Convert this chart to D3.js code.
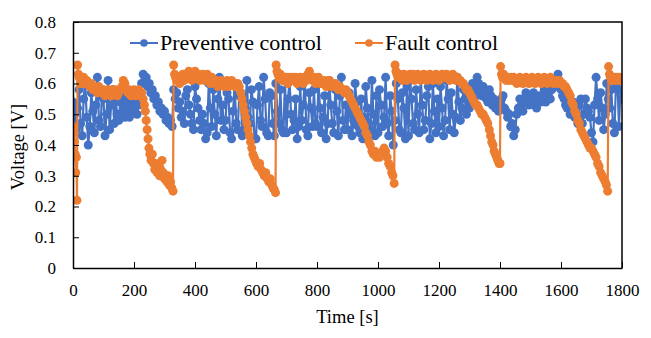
<!DOCTYPE html>
<html>
<head>
<meta charset="utf-8">
<script src="https://cdn.jsdelivr.net/npm/d3@7"></script>
<style>
  body { margin: 0; background: #fff; }
  text { font-family: "Liberation Serif", "Times New Roman", serif; fill: #000; }
</style>
</head>
<body>
<div id="chart"></div>
<script>
// preventive control, one reading every 5 s (0 .. 1800)
const preventiveTime = d3.range(0, 1801, 5);
const preventiveVolt = [
    0.54,0.50,0.45,0.52,0.58,0.47,0.43,0.55,0.61,0.49,0.40,0.46,0.57,0.51,0.44,0.53,0.62,0.48,0.46,0.56,
    0.55,0.43,0.50,0.61,0.45,0.53,0.58,0.47,0.55,0.50,0.48,0.54,0.50,0.56,0.49,0.52,0.54,0.49,0.51,0.55,
    0.52,0.55,0.50,0.53,0.57,0.60,0.63,0.61,0.62,0.59,0.60,0.57,0.58,0.55,0.56,0.53,0.54,0.51,0.52,0.50,
    0.51,0.48,0.49,0.47,0.48,0.46,0.58,0.55,0.57,0.52,0.54,0.49,0.51,0.47,0.56,0.58,0.53,0.50,0.47,0.45,
    0.59,0.55,0.52,0.48,0.45,0.50,0.47,0.42,0.44,0.60,0.52,0.46,0.58,0.50,0.43,0.55,0.62,0.48,0.53,0.45,
    0.48,0.57,0.55,0.44,0.42,0.51,0.60,0.47,0.45,0.56,0.57,0.43,0.44,0.52,0.61,0.49,0.47,0.58,0.54,0.42,
    0.42,0.53,0.59,0.48,0.46,0.62,0.55,0.44,0.43,0.57,0.56,0.47,0.43,0.60,0.51,0.47,0.58,0.45,0.44,0.61,
    0.44,0.55,0.61,0.50,0.45,0.48,0.55,0.42,0.46,0.59,0.48,0.53,0.62,0.45,0.43,0.57,0.52,0.46,0.58,0.47,
    0.46,0.60,0.52,0.44,0.49,0.56,0.42,0.47,0.61,0.53,0.47,0.44,0.58,0.51,0.43,0.56,0.62,0.48,0.45,0.53,
    0.45,0.57,0.50,0.43,0.48,0.60,0.54,0.46,0.44,0.55,0.42,0.49,0.59,0.52,0.47,0.45,0.61,0.50,0.43,0.56,
    0.44,0.58,0.53,0.46,0.49,0.62,0.47,0.43,0.56,0.51,0.40,0.48,0.60,0.55,0.45,0.44,0.57,0.52,0.42,0.59,
    0.43,0.61,0.55,0.47,0.45,0.58,0.50,0.44,0.62,0.53,0.45,0.48,0.56,0.59,0.42,0.47,0.60,0.51,0.44,0.55,
    0.46,0.59,0.52,0.43,0.48,0.61,0.55,0.45,0.57,0.50,0.44,0.49,0.62,0.54,0.48,0.52,0.58,0.55,0.50,0.57,
    0.52,0.56,0.60,0.55,0.58,0.62,0.60,0.57,0.56,0.59,0.57,0.55,0.54,0.58,0.56,0.53,0.55,0.52,0.54,0.51,
    0.53,0.55,0.56,0.52,0.51,0.49,0.50,0.46,0.47,0.43,0.45,0.50,0.52,0.55,0.53,0.51,0.55,0.57,0.56,0.53,
    0.54,0.56,0.57,0.53,0.52,0.55,0.56,0.54,0.55,0.58,0.54,0.56,0.57,0.55,0.58,0.60,0.59,0.61,0.63,0.60,
    0.58,0.56,0.55,0.53,0.52,0.54,0.50,0.51,0.54,0.49,0.52,0.47,0.53,0.55,0.47,0.50,0.55,0.52,0.51,0.49,
    0.44,0.41,0.53,0.62,0.55,0.48,0.57,0.52,0.45,0.50,0.60,0.55,0.52,0.58,0.47,0.44,0.59,0.61,0.46,0.58,
    0.55
];

// fault control, [time s, voltage V]
const faultPoints = [
    [0,0.46],[3,0.44],[5,0.41],[7,0.37],[9,0.31],[11,0.36],[13,0.22],
    [15,0.66],[18,0.63],[20,0.62],[25,0.60],[30,0.61],[35,0.62],[40,0.60],[45,0.61],[50,0.60],[55,0.59],[60,0.60],
    [65,0.58],[70,0.59],[75,0.58],[80,0.57],[85,0.59],[90,0.58],[95,0.57],[100,0.58],[105,0.56],[110,0.57],[115,0.58],
    [120,0.57],[125,0.56],[130,0.58],[135,0.57],[140,0.58],[145,0.56],[150,0.57],[155,0.58],[160,0.59],[165,0.61],
    [170,0.60],[175,0.58],[180,0.57],[185,0.58],[190,0.56],[195,0.57],[200,0.58],[205,0.56],[210,0.57],[215,0.58],
    [220,0.56],[225,0.57],[230,0.55],
    [234,0.53],[237,0.51],[240,0.48],[243,0.45],[246,0.42],[249,0.39],[252,0.37],[256,0.35],[260,0.37],[264,0.34],
    [268,0.32],[272,0.34],[276,0.31],[280,0.33],[284,0.30],[288,0.32],[292,0.35],[296,0.31],[300,0.29],[304,0.30],
    [308,0.28],[312,0.30],[316,0.27],[320,0.28],[324,0.26],[328,0.25],
    [330,0.66],[333,0.63],[336,0.62],[340,0.61],[345,0.62],[350,0.60],[355,0.62],[360,0.63],[365,0.61],[370,0.62],
    [375,0.63],[380,0.64],[385,0.62],[390,0.61],[395,0.63],[400,0.64],[405,0.62],[410,0.63],[415,0.61],[420,0.62],
    [425,0.63],[430,0.61],[435,0.62],[440,0.63],[445,0.61],[450,0.60],[455,0.62],[460,0.61],[465,0.60],[470,0.61],
    [475,0.59],[480,0.60],[485,0.61],[490,0.60],[495,0.59],[500,0.60],[505,0.61],[510,0.59],[515,0.60],[520,0.61],
    [525,0.60],[530,0.59],[535,0.60],[540,0.60],[545,0.59],
    [550,0.57],[554,0.55],[558,0.53],[562,0.51],[566,0.49],[570,0.47],[574,0.45],[578,0.43],[582,0.41],[586,0.39],
    [590,0.37],[594,0.36],[598,0.35],[602,0.34],[607,0.33],[612,0.34],[617,0.32],[622,0.31],[627,0.30],[632,0.31],
    [637,0.29],[642,0.28],[647,0.29],[652,0.27],[656,0.26],[660,0.255],[664,0.245],
    [666,0.66],[669,0.64],[672,0.63],[676,0.62],[680,0.63],[685,0.61],[690,0.62],[695,0.61],[700,0.62],[705,0.60],
    [710,0.62],[715,0.61],[720,0.62],[725,0.61],[730,0.62],[735,0.60],[740,0.61],[745,0.62],[750,0.61],[755,0.60],
    [760,0.62],[765,0.61],[770,0.63],[775,0.64],[780,0.62],[785,0.61],[790,0.62],[795,0.60],[800,0.61],[805,0.62],
    [810,0.60],[815,0.61],[820,0.60],[825,0.61],[830,0.59],[835,0.60],[840,0.61],[845,0.59],[850,0.60],[855,0.59],
    [860,0.60],[865,0.59],[870,0.58],[875,0.59],[880,0.58],[885,0.58],[890,0.57],[895,0.58],
    [900,0.57],[905,0.56],[910,0.55],[915,0.54],[920,0.53],[925,0.52],[930,0.51],[935,0.50],[940,0.49],[945,0.48],
    [950,0.47],[955,0.46],[960,0.44],[965,0.43],[970,0.41],[975,0.40],[980,0.38],[985,0.37],[990,0.38],[995,0.36],
    [1000,0.37],[1005,0.36],[1010,0.37],[1015,0.38],[1020,0.39],[1025,0.38],[1030,0.36],[1035,0.34],[1040,0.33],
    [1045,0.31],[1049,0.30],[1053,0.275],
    [1056,0.66],[1059,0.64],[1062,0.63],[1066,0.62],[1070,0.63],[1075,0.62],[1080,0.61],[1085,0.63],[1090,0.62],
    [1095,0.61],[1100,0.62],[1105,0.63],[1110,0.62],[1115,0.63],[1120,0.61],[1125,0.62],[1130,0.63],[1135,0.62],
    [1140,0.61],[1145,0.62],[1150,0.63],[1155,0.62],[1160,0.61],[1165,0.62],[1170,0.63],[1175,0.62],[1180,0.61],
    [1185,0.62],[1190,0.63],[1195,0.62],[1200,0.61],[1205,0.62],[1210,0.63],[1215,0.62],[1220,0.62],[1225,0.63],
    [1230,0.62],[1235,0.61],[1240,0.62],[1245,0.63],[1250,0.62],[1255,0.61],[1260,0.62],[1265,0.61],[1270,0.61],
    [1275,0.60],[1280,0.60],[1285,0.59],
    [1290,0.58],[1295,0.58],[1300,0.57],[1305,0.56],[1310,0.55],[1315,0.54],[1320,0.53],[1325,0.53],[1330,0.52],
    [1335,0.51],[1340,0.50],[1345,0.50],[1350,0.49],[1355,0.48],[1360,0.47],[1365,0.45],[1369,0.43],[1373,0.41],
    [1377,0.40],[1381,0.38],[1385,0.37],[1389,0.36],[1393,0.35],[1397,0.34],[1400,0.34],
    [1402,0.655],[1405,0.63],[1408,0.62],[1412,0.63],[1416,0.62],[1420,0.61],[1425,0.62],[1430,0.61],[1435,0.62],
    [1440,0.61],[1445,0.62],[1450,0.61],[1455,0.60],[1460,0.61],[1465,0.62],[1470,0.61],[1475,0.60],[1480,0.61],
    [1485,0.62],[1490,0.61],[1495,0.60],[1500,0.61],[1505,0.62],[1510,0.61],[1515,0.60],[1520,0.61],[1525,0.62],
    [1530,0.61],[1535,0.60],[1540,0.61],[1545,0.62],[1550,0.61],[1555,0.60],[1560,0.61],[1565,0.62],[1570,0.61],
    [1575,0.60],[1580,0.61],[1585,0.61],[1590,0.60],[1595,0.61],[1600,0.60],[1605,0.60],[1610,0.59],[1615,0.59],
    [1620,0.58],
    [1625,0.57],[1630,0.56],[1635,0.54],[1640,0.53],[1645,0.51],[1650,0.50],[1655,0.48],[1660,0.47],[1665,0.45],
    [1670,0.44],[1675,0.43],[1680,0.42],[1685,0.41],[1690,0.40],[1695,0.39],[1700,0.39],[1705,0.38],[1710,0.37],
    [1715,0.36],[1720,0.34],[1725,0.33],[1730,0.31],[1735,0.30],[1740,0.29],[1745,0.28],[1749,0.27],[1753,0.25],
    [1756,0.655],[1759,0.63],[1762,0.62],[1766,0.61],[1770,0.62],[1775,0.61],[1780,0.62],[1785,0.61],[1790,0.62],
    [1795,0.61],[1800,0.62]
];

const seriesNames = ["Preventive control", "Fault control"];
const seriesColors = ["#4472C4", "#ED7D31"];
const xTicks = [0, 200, 400, 600, 800, 1000, 1200, 1400, 1600, 1800];
const yTicks = [0, 0.1, 0.2, 0.3, 0.4, 0.5, 0.6, 0.7, 0.8];

const serif = "'Liberation Serif', 'Times New Roman', serif";
const width = 651, height = 338;
const margin = { top: 22, right: 29, bottom: 70, left: 73 };

const svg = d3.select("#chart").append("svg")
    .attr("width", width)
    .attr("height", height);

const x = d3.scaleLinear().domain([0, 1800]).range([margin.left, width - margin.right]);
const y = d3.scaleLinear().domain([0, 0.8]).range([height - margin.bottom, margin.top]);

// keep markers from spilling over the left / right frame
svg.append("clipPath").attr("id", "plotClip")
    .append("rect")
    .attr("x", margin.left)
    .attr("y", margin.top - 6)
    .attr("width", x(1800) - margin.left)
    .attr("height", y(0) - margin.top + 6);

const preventiveData = preventiveTime.map((t, i) => ({ t: t, v: preventiveVolt[i] }));
const faultData = faultPoints.map(p => ({ t: p[0], v: p[1] }));

const line = d3.line().x(d => x(d.t)).y(d => y(d.v));

const plot = svg.append("g").attr("clip-path", "url(#plotClip)");

[preventiveData, faultData].forEach(function (data, k) {
    plot.append("path")
        .datum(data)
        .attr("d", line)
        .attr("fill", "none")
        .attr("stroke", seriesColors[k])
        .attr("stroke-width", 2.2);
    plot.selectAll(".dot" + k)
        .data(data)
        .enter()
        .append("circle")
        .attr("class", "dot" + k)
        .attr("cx", d => x(d.t))
        .attr("cy", d => y(d.v))
        .attr("r", 4.5)
        .attr("fill", seriesColors[k]);
});

// axes, ticks pointing inward
svg.append("g")
    .attr("transform", "translate(0," + y(0) + ")")
    .call(d3.axisBottom(x).tickValues(xTicks).tickSizeInner(-6).tickSizeOuter(0).tickPadding(16)
        .tickFormat(d3.format("d")))
    .attr("font-family", serif)
    .attr("font-size", 17)
    .call(g => g.select(".domain").attr("stroke", "#000").attr("stroke-width", 1.5))
    .call(g => g.selectAll("line").attr("stroke", "#000"))
    .call(g => g.selectAll("text").style("font-family", serif));

svg.append("g")
    .attr("transform", "translate(" + margin.left + ",0)")
    .call(d3.axisLeft(y).tickValues(yTicks).tickSizeInner(-6).tickSizeOuter(0).tickPadding(17)
        .tickFormat(d => d === 0 ? "0" : d3.format(".1f")(d)))
    .attr("font-family", serif)
    .attr("font-size", 17)
    .call(g => g.select(".domain").attr("stroke", "#000").attr("stroke-width", 1.5))
    .call(g => g.selectAll("line").attr("stroke", "#000"))
    .call(g => g.selectAll("text").style("font-family", serif));

// top and right edges of the frame
svg.append("path")
    .attr("d", "M" + x(0) + "," + y(0.8) + "H" + x(1800) + "V" + y(0))
    .attr("fill", "none")
    .attr("stroke", "#000")
    .attr("stroke-width", 1.5);

// axis titles
svg.append("text")
    .attr("x", (x(0) + x(1800)) / 2)
    .attr("y", 323)
    .attr("text-anchor", "middle")
    .style("font-size", "18.5px")
    .text("Time [s]");

svg.append("text")
    .attr("transform", "translate(24," + (y(0.4) + 2) + ") rotate(-90)")
    .attr("text-anchor", "middle")
    .style("font-size", "18.5px")
    .text("Voltage [V]");

// legend
const legendX = [130, 355];
seriesNames.forEach(function (name, k) {
    const g = svg.append("g").attr("transform", "translate(" + legendX[k] + ",43)");
    g.append("line")
        .attr("x1", 0).attr("x2", 28)
        .attr("stroke", seriesColors[k])
        .attr("stroke-width", 2);
    g.append("circle")
        .attr("cx", 14)
        .attr("r", 3.8)
        .attr("fill", seriesColors[k]);
    g.append("text")
        .attr("x", 30)
        .attr("y", 7)
        .style("font-size", "22px")
        .text(name);
});
</script>
</body>
</html>
